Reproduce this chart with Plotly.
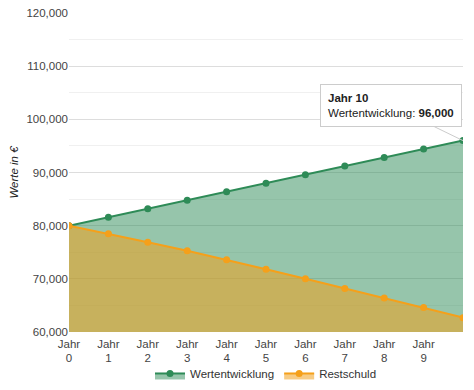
import plotly.graph_objects as go

years = list(range(11))
tick_labels = [f"Jahr<br>{i}" for i in range(10)]
wertentwicklung = [80000, 81600, 83200, 84800, 86400, 88000, 89600, 91200, 92800, 94400, 96000]
restschuld = [80000, 78500, 76900, 75300, 73600, 71800, 70000, 68200, 66400, 64600, 62700]

green = "#2e8b57"
orange = "#f5a01a"
FONT = "Liberation Sans, Arial, sans-serif"

fig = go.Figure()
fig.add_trace(go.Scatter(
    x=years, y=wertentwicklung, name="Wertentwicklung",
    mode="lines+markers", fill="tozeroy",
    line=dict(color=green, width=2), marker=dict(color=green, size=7),
    fillcolor="rgba(46,139,87,0.5)",
))
fig.add_trace(go.Scatter(
    x=years, y=restschuld, name="Restschuld",
    mode="lines+markers", fill="tozeroy",
    line=dict(color=orange, width=2), marker=dict(color=orange, size=7),
    fillcolor="rgba(240,160,30,0.55)",
))

fig.add_annotation(
    x=10, y=96000, xref="x", yref="y",
    text="<b>Jahr 10</b><br>Wertentwicklung: <b>96,000</b>",
    align="left", showarrow=True, arrowhead=0, arrowwidth=1, arrowcolor="#cccccc",
    ax=-72, ay=-35, bgcolor="white", bordercolor="#cccccc", borderwidth=1, borderpad=7,
    font=dict(size=11.5, color="#222222", family=FONT),
)

# page body has an 8px default margin; figure sized to fit the 474x390 window
fig.update_layout(
    width=466, height=382,
    margin=dict(l=61, r=11, t=5, b=58, autoexpand=False),
    paper_bgcolor="white", plot_bgcolor="white",
    font=dict(family=FONT, size=11.5, color="#444444"),
    legend=dict(orientation="h", x=0.5, xanchor="center", y=-0.13, yanchor="middle",
                bgcolor="rgba(0,0,0,0)",
                font=dict(size=11.5, color="#333333")),
    showlegend=True,
)
fig.update_xaxes(
    range=[0, 10], tickvals=list(range(10)), ticktext=tick_labels,
    showgrid=False, zeroline=False, showline=False, ticks="",
    ticklabelstandoff=3,
    tickfont=dict(size=11.5, color="#444444"),
)
fig.update_yaxes(
    range=[60000, 120000], tickvals=[60000, 70000, 80000, 90000, 100000, 110000, 120000],
    tickformat=",d", showgrid=True, gridcolor="#dddddd", gridwidth=1,
    ticks="", ticklabeloverflow="allow",
    minor=dict(dtick=5000, showgrid=True, gridcolor="#f0f0f0"),
    zeroline=False,
    title=dict(text="<i>Werte in €</i>", font=dict(size=11.5, color="#222222"), standoff=14),
    tickfont=dict(size=11.5, color="#444444"),
)

fig.write_html("out.html")
